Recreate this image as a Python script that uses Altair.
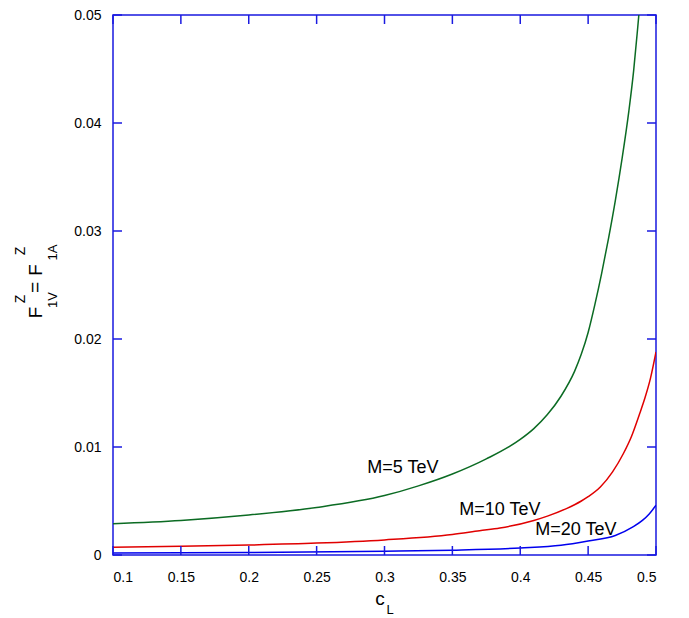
import altair as alt
import pandas as pd

# ---- data ----
c_m5 = [0.10, 0.15, 0.20, 0.25, 0.30, 0.325, 0.35, 0.375, 0.40, 0.41, 0.42, 0.43, 0.44, 0.445, 0.45, 0.455, 0.46, 0.465, 0.47, 0.475, 0.48, 0.4835, 0.4865, 0.4875]
v_m5 = [0.0029, 0.0032, 0.0037, 0.0044, 0.0055, 0.0064, 0.0075, 0.0089, 0.0107, 0.0117, 0.0130, 0.0147, 0.0170, 0.0186, 0.0206, 0.0232, 0.0261, 0.0293, 0.0328, 0.0367, 0.0411, 0.0448, 0.0488, 0.0502]

c_m10 = [0.10, 0.15, 0.20, 0.25, 0.30, 0.35, 0.37, 0.385, 0.41, 0.42, 0.434, 0.445, 0.45, 0.459, 0.468, 0.476, 0.482, 0.488, 0.492, 0.496, 0.50]
v_m10 = [0.00071, 0.0008, 0.00092, 0.0011, 0.0014, 0.0019, 0.00225, 0.0025, 0.0032, 0.0036, 0.0043, 0.0050, 0.0054, 0.0063, 0.0077, 0.0094, 0.0110, 0.0131, 0.0146, 0.0164, 0.0188]

c_m20 = [0.10, 0.20, 0.30, 0.35, 0.40, 0.43, 0.45, 0.47, 0.483, 0.49, 0.495, 0.50]
v_m20 = [0.00018, 0.00023, 0.00035, 0.00045, 0.00065, 0.0009, 0.0013, 0.0018, 0.0026, 0.0032, 0.0038, 0.0046]

series_names = ["M=5 TeV", "M=10 TeV", "M=20 TeV"]
series_colors = ["#0b6b23", "#e00000", "#0000ee"]

label_c = [0.3136, 0.385, 0.441]
label_v = [0.00804, 0.00416, 0.00231]

x_ticks = [0.1, 0.15, 0.2, 0.25, 0.3, 0.35, 0.4, 0.45, 0.5]
y_ticks = [0, 0.01, 0.02, 0.03, 0.04, 0.05]

W, H = 543, 540
AX = "#1a1ae0"
FONT = "Liberation Sans"

rows = []
for name, cs, vs in zip(series_names, [c_m5, c_m10, c_m20], [v_m5, v_m10, v_m20]):
    for c, v in zip(cs, vs):
        rows.append({"c": c, "v": v, "series": name})
df = pd.DataFrame(rows)

xs = alt.Scale(domain=[0.1, 0.5], nice=False, zero=False)
ys = alt.Scale(domain=[0, 0.05], nice=False, zero=True)

lines = alt.Chart(df).mark_line(strokeWidth=1.5, interpolate="monotone", clip=True).encode(
    x=alt.X("c:Q", scale=xs,
            axis=alt.Axis(values=x_ticks, format="~g", title=None, ticks=False, domain=False, grid=False,
                          labelFont=FONT, labelFontSize=14, labelColor="black", labelPadding=15)),
    y=alt.Y("v:Q", scale=ys,
            axis=alt.Axis(values=y_ticks, format="~g", title=None, ticks=False, domain=False, grid=False,
                          labelFont=FONT, labelFontSize=14, labelColor="black", labelPadding=12)),
    color=alt.Color("series:N", scale=alt.Scale(domain=series_names, range=series_colors), legend=None),
    detail="series:N",
)

lab_df = pd.DataFrame({"c": label_c, "v": label_v, "t": series_names})
labels = alt.Chart(lab_df).mark_text(font=FONT, fontSize=18, color="black").encode(
    x=alt.X("c:Q", scale=xs), y=alt.Y("v:Q", scale=ys), text="t:N")

xt = pd.DataFrame({"t": x_ticks})
yt = pd.DataFrame({"t": y_ticks})
tl = 9
tick_bottom = alt.Chart(xt).mark_rule(color=AX, strokeWidth=1.5).encode(
    x=alt.X("t:Q", scale=xs), y=alt.value(H), y2=alt.value(H - tl))
tick_top = alt.Chart(xt).mark_rule(color=AX, strokeWidth=1.5).encode(
    x=alt.X("t:Q", scale=xs), y=alt.value(0), y2=alt.value(tl))
tick_left = alt.Chart(yt).mark_rule(color=AX, strokeWidth=1.5).encode(
    y=alt.Y("t:Q", scale=ys), x=alt.value(0), x2=alt.value(tl))
tick_right = alt.Chart(yt).mark_rule(color=AX, strokeWidth=1.5).encode(
    y=alt.Y("t:Q", scale=ys), x=alt.value(W), x2=alt.value(W - tl))

# axis titles built from pieces (sub/superscripts)
ttl = pd.DataFrame({
    "t": ["F", "1V", "Z", "=", "F", "1A", "Z"],
    "x": [-77.5, -60, -92, -78, -77.5, -60, -92],
    "y": [297.5, 285, 284, 272.5, 255, 237.5, 236],
    "s": [19, 13, 14, 19, 19, 13, 14],
})
ytitle = alt.layer(*[
    alt.Chart(pd.DataFrame({"t": [r.t]})).mark_text(
        font=FONT, fontSize=int(r.s), angle=270, align="center", baseline="middle", color="black"
    ).encode(x=alt.value(float(r.x)), y=alt.value(float(r.y)), text="t:N")
    for r in ttl.itertuples()
])
xtitle = alt.layer(
    alt.Chart(pd.DataFrame({"t": ["c"]})).mark_text(font=FONT, fontSize=19, align="center", baseline="middle", color="black")
    .encode(x=alt.value(267), y=alt.value(584), text="t:N"),
    alt.Chart(pd.DataFrame({"t": ["L"]})).mark_text(font=FONT, fontSize=13, align="center", baseline="middle", color="black")
    .encode(x=alt.value(277), y=alt.value(595), text="t:N"),
)

chart = alt.layer(lines, labels, tick_bottom, tick_top, tick_left, tick_right, ytitle, xtitle).properties(
    width=W, height=H,
    autosize=alt.AutoSizeParams(type="none"),
    padding={"left": 105, "top": 7, "right": 25, "bottom": 62},
    background="white",
).configure_view(stroke=AX, strokeWidth=1.5)

chart.save("out.html", embed_options={"renderer": "svg", "actions": False})
